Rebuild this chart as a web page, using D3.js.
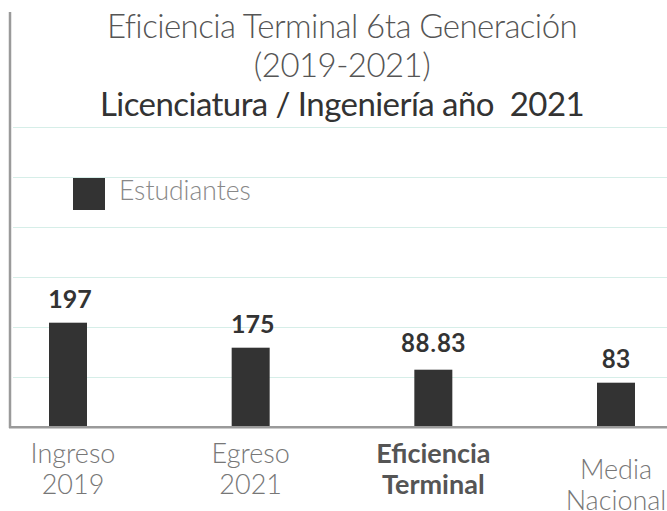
<!DOCTYPE html>
<html>
<head>
<meta charset="utf-8">
<script src="https://cdn.jsdelivr.net/npm/d3@7"></script>
<style>
  body { margin: 0; background: #fff; }
  svg { display: block; }
</style>
</head>
<body>
<div id="chart"></div>
<script>
// datos
var categorias = ["ingreso", "egreso", "eficiencia", "media"];
var etiquetas = [["Ingreso", "2019"], ["Egreso", "2021"], ["Eficiencia", "Terminal"], ["Media", "Nacional"]];
var valores = ["197", "175", "88.83", "83"];
// altura de cada barra leida contra la reticula (cada linea = 50)
var alturas = [104, 79, 57, 44];
var reticula = [50, 100, 150, 200, 250, 300];
var titulo = ["Eficiencia Terminal 6ta Generación", "(2019-2021)", "Licenciatura / Ingeniería año  2021"];
var leyenda = "Estudiantes";

var w = 667;
var h = 511;

var svg = d3.select("div#chart")
    .append("svg")
    .attr("width", w)
    .attr("height", h);

var y = d3.scaleLinear().domain([0, 415]).range([427, 12]);
var x = d3.scalePoint().domain(categorias).range([68, 616]);

// reticula
svg.selectAll("line.grid")
    .data(reticula)
    .enter()
    .append("line")
    .attr("class", "grid")
    .attr("x1", 13)
    .attr("x2", w)
    .attr("y1", function(d){ return y(d) + 0.5; })
    .attr("y2", function(d){ return y(d) + 0.5; })
    .attr("stroke", "#d6eee8")
    .attr("stroke-width", 1.2);

// barras
svg.selectAll("rect.bar")
    .data(alturas)
    .enter()
    .append("rect")
    .attr("class", "bar")
    .attr("x", function(d, i){ return x(categorias[i]) - 19; })
    .attr("y", function(d){ return y(d) - 0.3; })
    .attr("width", 38)
    .attr("height", function(d){ return y(0) - y(d); })
    .attr("fill", "#333333");

// ejes
svg.append("line")
    .attr("x1", 10).attr("x2", 10)
    .attr("y1", 12).attr("y2", 428)
    .attr("stroke", "#9a9a9a")
    .attr("stroke-width", 2.5);

svg.append("line")
    .attr("x1", 9).attr("x2", w)
    .attr("y1", 427.2).attr("y2", 427.2)
    .attr("stroke", "#9a9a9a")
    .attr("stroke-width", 2.5);

// valores
svg.selectAll("text.valor")
    .data(valores)
    .enter()
    .append("text")
    .attr("class", "valor")
    .attr("x", function(d, i){ return x(categorias[i]) + (i < 2 ? 2 : 0); })
    .attr("y", function(d, i){ return y(alturas[i]) - (i == 2 ? 18 : 15); })
    .attr("text-anchor", "middle")
    .style("font-family", function(d, i){ return i < 2 ? "Lato" : "Roboto"; })
    .style("font-weight", function(d, i){ return i < 2 ? 700 : 500; })
    .style("font-size", function(d, i){ return i < 2 ? "25px" : "25.5px"; })
    .attr("fill", "#333")
    .text(function(d){ return d; });

// etiquetas del eje x
var etq = svg.selectAll("text.cat")
    .data(etiquetas)
    .enter()
    .append("text")
    .attr("class", "cat")
    .attr("text-anchor", "middle")
    .style("font-family", "Lato")
    .style("font-size", "27px")
    .style("font-weight", function(d, i){ return i == 2 ? 700 : 300; })
    .attr("fill", function(d, i){ return i == 2 ? "#555" : "#777"; })
    .attr("transform", function(d, i){
        var dy = i == 3 ? 479 : 463;
        var dx = i == 0 ? 5 : 0;
        return "translate(" + (x(categorias[i]) + dx) + "," + dy + ")";
    });

etq.selectAll("tspan")
    .data(function(d){ return d; })
    .enter()
    .append("tspan")
    .attr("x", 0)
    .attr("y", function(d, j){ return j * 31; })
    .text(function(d){ return d; });

// leyenda
svg.append("rect")
    .attr("x", 73).attr("y", 178)
    .attr("width", 32).attr("height", 32)
    .attr("fill", "#333");

svg.append("text")
    .attr("x", 119)
    .attr("y", 200)
    .style("font-family", "Lato")
    .style("font-weight", 300)
    .style("font-size", "26.5px")
    .attr("fill", "#888")
    .text(leyenda);

// titulo
svg.selectAll("text.titulo")
    .data(titulo)
    .enter()
    .append("text")
    .attr("class", "titulo")
    .attr("x", 342)
    .attr("y", function(d, i){ return 38 + i * 39; })
    .attr("text-anchor", "middle")
    .style("white-space", "pre")
    .style("font-family", "Lato")
    .style("font-weight", function(d, i){ return i < 2 ? 300 : 400; })
    .style("font-size", "33px")
    .style("letter-spacing", "-0.55px")
    .attr("fill", function(d, i){ return i < 2 ? "#555" : "#333"; })
    .text(function(d){ return d; });
</script>
</body>
</html>
